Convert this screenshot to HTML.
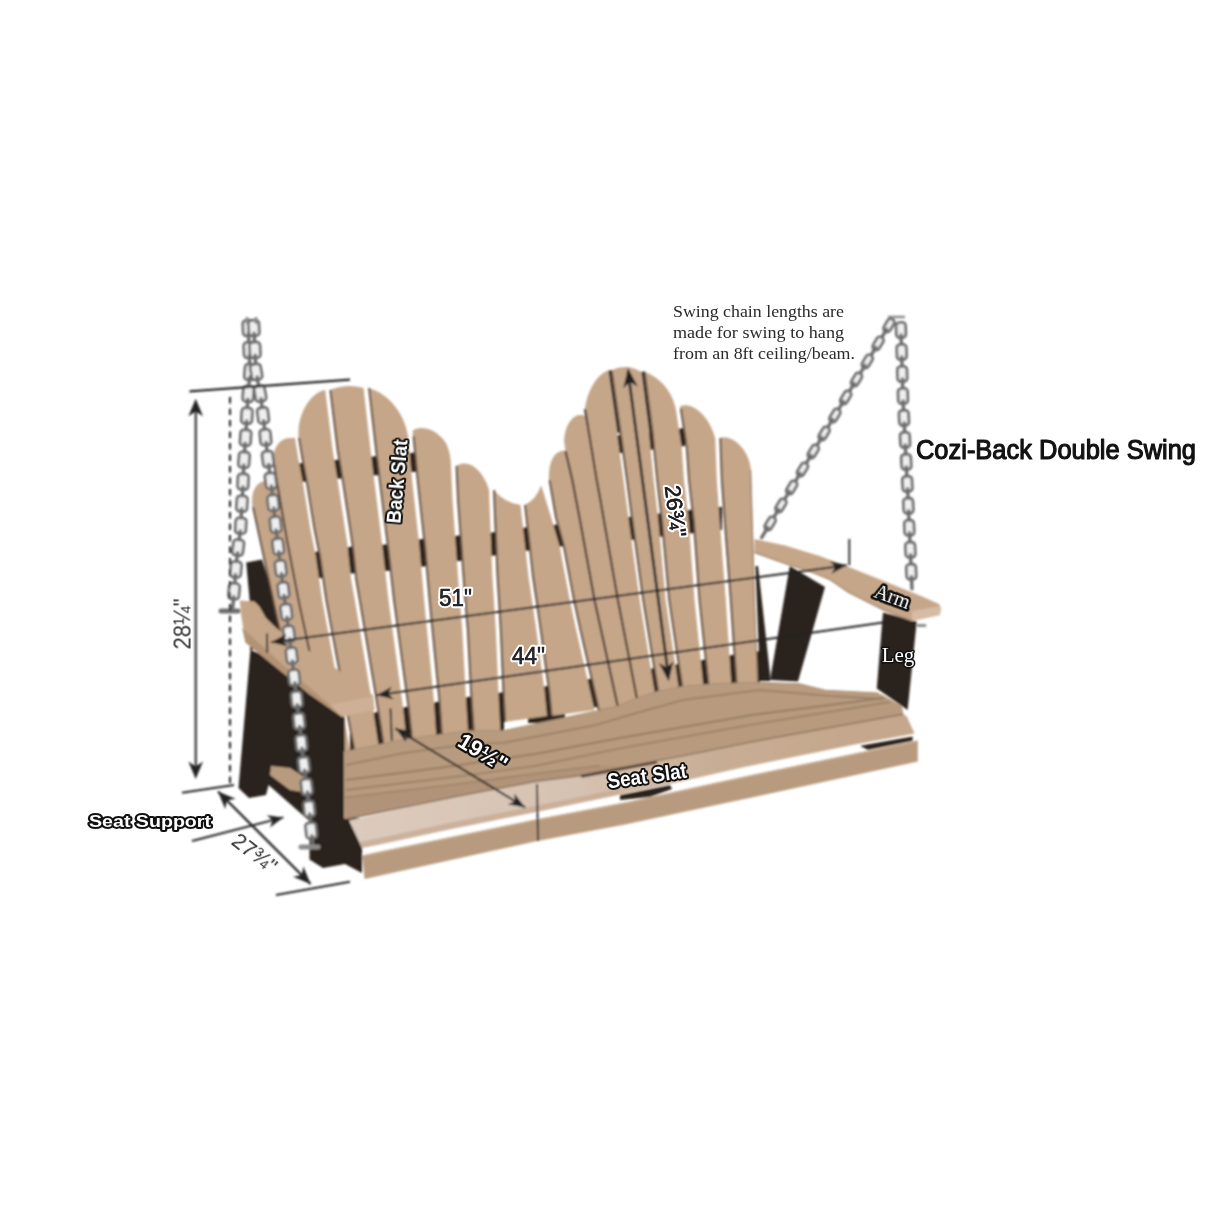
<!DOCTYPE html>
<html><head><meta charset="utf-8"><title>Cozi-Back Double Swing</title>
<style>
html,body{margin:0;padding:0;background:#fff;}
body{width:1214px;height:1214px;overflow:hidden;font-family:"Liberation Sans",sans-serif;}
svg{display:block;}
</style></head>
<body>
<svg width="1214" height="1214" viewBox="0 0 1214 1214">
<defs><filter id="soft" x="0" y="0" width="1214" height="1214" filterUnits="userSpaceOnUse"><feGaussianBlur stdDeviation="0.8"/></filter></defs>
<rect width="1214" height="1214" fill="#ffffff"/>
<g filter="url(#soft)">
<polygon points="298.0,463.5 418.0,452.2 418.0,471.5 298.0,482.3" fill="#2b221d" />
<polygon points="314.0,552.0 351.0,546.7 386.0,544.5 422.0,539.0 459.0,535.6 494.0,532.3 525.0,527.5 558.0,524.5 631.0,516.7 690.0,510.0 722.0,506.7 722.0,530.0 690.0,533.4 631.0,540.0 558.0,546.7 525.0,551.0 494.0,555.6 459.0,561.0 422.0,566.7 386.0,571.0 351.0,573.4 314.0,579.0" fill="#2b221d" />
<polygon points="612.0,436.0 685.0,428.0 685.0,446.0 612.0,454.0" fill="#2b221d" />
<polygon points="350.0,717.0 406.0,707.0 468.0,697.0 548.0,686.0 732.0,655.0 760.0,651.0 760.0,690.0 600.0,712.0 597.0,707.0 565.0,712.0 565.0,723.0 528.0,723.0 528.0,717.0 504.0,721.0 504.0,732.0 350.0,758.0" fill="#2b221d" />
<polygon points="246.2,562.4 262.0,559.5 275.0,600.0 292.0,645.0 250.0,650.0 249.5,598.6" fill="#2b221d" />
<polygon points="755.4,566.0 758.0,566.0 770.0,674.0 770.0,681.0 760.0,681.0" fill="#2b221d" />
<polygon points="789.8,566.0 825.0,587.0 798.0,681.5 770.0,680.0" fill="#2b221d" />
<path d="M300.0 720.0 L277.0 620.0 L252.5 507.0 C250 490 258 481 266 481 Q273 481 277.3 484.0 L287.0 540.0 L298.5 600.0 L308.8 648.0 L322.0 720.0 Z" fill="#c5a689"/>
<path d="M330.0 762.0 L322.0 720.0 L308.8 648.0 L298.5 600.0 L287.0 540.0 L276.7 480.0 L273.5 460.0 C273 445 282 438 290 438 Q294 438 294.9 437.8 L298.6 460.0 L303.1 483.8 L310.2 528.0 L315.6 555.0 L322.2 600.0 L334.2 665.0 L348.2 740.0 L352.2 760.0 Z" fill="#c5a689"/>
<path d="M355.8 760.0 L351.8 740.0 L337.8 665.0 L325.8 600.0 L319.1 555.0 L313.8 528.0 L306.6 483.8 L302.1 460.0 L298.4 437.8 L298.5 430 C300 410 312 392 325.2 390.0 L332.8 451.0 L338.2 483.8 L347.2 543.0 L351.2 580.0 L354.8 600.0 L370.8 695.0 L380.8 760.0 Z" fill="#c5a689"/>
<path d="M385.2 760.0 L375.2 695.0 L359.2 600.0 L355.8 580.0 L351.8 543.0 L342.8 483.8 L337.2 451.0 L329.8 390.0 Q347 383 363.5 388.0 L371.5 458.0 L374.2 480.0 L382.5 547.0 L388.5 600.0 L403.0 707.0 L408.5 760.0 Z" fill="#c5a689"/>
<path d="M413.5 760.0 L408.0 707.0 L393.5 600.0 L387.5 547.0 L379.2 480.0 L376.5 458.0 L368.5 388.0 C385 392 404 410 408.0 436.0 L412.1 480.0 L419.5 547.0 L424.1 600.0 L427.0 630.0 L433.8 699.0 L437.5 755.0 Z" fill="#c5a689"/>
<path d="M442.5 755.0 L438.8 699.0 L432.0 630.0 L429.1 600.0 L424.5 547.0 L417.1 480.0 L413.0 436.0 L412.5 431 C418 426 434 426 446 443 Q451 454 451.0 466.0 L452.5 500.0 L455.1 535.7 L458.0 576.0 L459.8 600.0 L462.3 630.0 L466.0 700.0 L469.0 745.0 Z" fill="#c5a689"/>
<path d="M474.0 745.0 L471.0 700.0 L467.3 630.0 L464.8 600.0 L463.0 576.0 L460.1 535.7 L457.5 500.0 L456.0 466.0 C463 461 474 463 482 475 Q487 482 489.1 490.0 L489.4 502.0 L492.4 576.5 L493.9 600.0 L495.8 630.0 L498.8 700.0 L500.8 738.0 Z" fill="#c5a689"/>
<path d="M504.5 722.0 L503.2 700.0 L500.2 630.0 L498.4 600.0 L496.9 576.5 L493.9 502.0 L493.6 490.0 Q505 503 520.5 505.0 L525.8 552.0 L528.5 576.5 L532.0 600.0 L536.3 630.0 L544.5 690.0 L547.0 716.0 Z" fill="#c5a689"/>
<path d="M551.0 716.0 L548.5 690.0 L540.3 630.0 L536.0 600.0 L532.5 576.5 L529.8 552.0 L524.5 505.0 Q536 500 541.2 485.3 L551.2 517.5 L559.8 547.0 L565.2 576.0 L569.8 600.0 L576.2 630.0 L592.2 700.0 L594.5 710.0 Z" fill="#c5a689"/>
<path d="M598.2 710.0 L596.0 700.0 L580.0 630.0 L573.5 600.0 L569.0 576.0 L563.5 547.0 L555.5 517.5 L549.0 480.0 C548 465 553 454 559 452 Q563 450 565.5 451.0 L572.3 480.0 L580.5 523.0 L594.5 600.0 L617.0 703.0 L618.0 707.0 Z" fill="#c5a689"/>
<path d="M618.0 707.0 L617.0 703.0 L594.5 600.0 L580.5 523.0 L572.3 480.0 L565.5 451.0 L564 441 C565 425 572 416 579 415 Q583 414.5 584.5 416 L585.0 409.0 L596.7 480.0 L600.0 497.7 L617.9 600.0 L637.0 699.0 L637.5 701.0 Z" fill="#c5a689"/>
<path d="M637.5 701.0 L637.0 699.0 L617.9 600.0 L600.0 497.7 L596.7 480.0 L585.0 409.0 C587 392 596 375 608.0 370.4 L617.0 433.0 L623.5 480.0 L629.0 522.0 L639.7 600.0 L654.5 691.0 L655.0 693.0 Z" fill="#c5a689"/>
<path d="M658.0 693.0 L657.5 691.0 L642.7 600.0 L632.0 522.0 L626.5 480.0 L620.0 433.0 L611.0 370.4 Q626.7 363 641.0 371.7 L649.0 433.0 L653.7 480.0 L658.5 522.0 L665.7 600.0 L678.5 686.5 L678.8 688.0 Z" fill="#c5a689"/>
<path d="M681.8 688.0 L681.5 686.5 L668.7 600.0 L661.5 522.0 L656.7 480.0 L652.0 433.0 L644.0 371.7 C658 376 672 390 675.8 408.7 L681.8 448.0 L684.0 480.0 L688.8 522.0 L694.5 600.0 L703.2 684.0 L703.2 686.0 Z" fill="#c5a689"/>
<path d="M707.8 686.0 L707.8 684.0 L699.0 600.0 L693.2 522.0 L688.5 480.0 L686.2 448.0 L680.2 408.7 L680.5 406 C690 402 708 412 715.2 438.0 L716.8 480.0 L719.8 522.0 L725.8 600.0 L731.2 681.5 L731.2 685.0 Z" fill="#c5a689"/>
<path d="M735.8 685.0 L735.8 681.5 L730.2 600.0 L724.2 522.0 L721.2 480.0 L719.8 438.0 C728 434 748 444 751.0 470.0 L751.3 480.0 L753.0 537.0 L754.8 600.0 L758.0 684.0 Z" fill="#c5a689"/>
<polyline points="300.6,720.0 277.6,620.0 253.1,507.0" fill="none" stroke="#574233" stroke-width="2.0" stroke-opacity="0.9"/>
<polyline points="356.4,760.0 352.4,740.0 338.4,665.0 326.4,600.0 319.8,555.0 314.4,528.0 307.2,483.8 302.8,460.0 299.1,437.8" fill="none" stroke="#574233" stroke-width="2.0" stroke-opacity="0.9"/>
<polyline points="385.9,760.0 375.9,695.0 359.9,600.0 356.4,580.0 352.4,543.0 343.4,483.8 337.9,451.0 330.4,390.0" fill="none" stroke="#574233" stroke-width="2.0" stroke-opacity="0.9"/>
<polyline points="414.1,760.0 408.6,707.0 394.1,600.0 388.1,547.0 379.8,480.0 377.1,458.0 369.1,388.0" fill="none" stroke="#574233" stroke-width="2.0" stroke-opacity="0.9"/>
<polyline points="443.1,755.0 439.4,699.0 432.6,630.0 429.7,600.0 425.1,547.0 417.7,480.0 413.6,436.0" fill="none" stroke="#574233" stroke-width="2.0" stroke-opacity="0.9"/>
<polyline points="474.6,745.0 471.6,700.0 467.9,630.0 465.4,600.0 463.6,576.0 460.7,535.7 458.1,500.0 456.6,466.0" fill="none" stroke="#574233" stroke-width="2.0" stroke-opacity="0.9"/>
<polyline points="505.1,722.0 503.9,700.0 500.9,630.0 499.1,600.0 497.6,576.5 494.5,502.0 494.2,490.0" fill="none" stroke="#574233" stroke-width="2.0" stroke-opacity="0.9"/>
<polyline points="551.6,716.0 549.1,690.0 540.9,630.0 536.6,600.0 533.1,576.5 530.4,552.0 525.1,505.0" fill="none" stroke="#574233" stroke-width="2.0" stroke-opacity="0.9"/>
<polyline points="598.8,710.0 596.6,700.0 580.6,630.0 574.1,600.0 569.6,576.0 564.1,547.0 556.1,517.5 549.6,480.0" fill="none" stroke="#574233" stroke-width="2.0" stroke-opacity="0.9"/>
<polyline points="658.6,693.0 658.1,691.0 643.3,600.0 632.6,522.0 627.1,480.0 620.6,433.0 611.6,370.4" fill="none" stroke="#574233" stroke-width="2.0" stroke-opacity="0.9"/>
<polyline points="682.4,688.0 682.1,686.5 669.3,600.0 662.1,522.0 657.3,480.0 652.6,433.0 644.6,371.7" fill="none" stroke="#574233" stroke-width="2.0" stroke-opacity="0.9"/>
<polyline points="708.4,686.0 708.4,684.0 699.6,600.0 693.9,522.0 689.1,480.0 686.9,448.0 680.9,408.7" fill="none" stroke="#574233" stroke-width="2.0" stroke-opacity="0.9"/>
<polyline points="736.4,685.0 736.4,681.5 730.9,600.0 724.9,522.0 721.9,480.0 720.4,438.0" fill="none" stroke="#574233" stroke-width="2.0" stroke-opacity="0.9"/>
<polyline points="750.6,470.0 750.9,480.0 752.6,537.0 754.4,600.0 757.6,684.0" fill="none" stroke="#8a6f58" stroke-width="1.2" stroke-opacity="0.8"/>
<polyline points="273.5,460.0 276.7,480.0 287.0,540.0 298.5,600.0 308.8,648.0 322.0,720.0 330.0,762.0" fill="none" stroke="#3f3027" stroke-width="1.8" />
<polyline points="565.5,451.0 572.3,480.0 580.5,523.0 594.5,600.0 617.0,703.0 618.0,707.0" fill="none" stroke="#3a2d25" stroke-width="2.0" />
<polyline points="585.0,409.0 596.7,480.0 600.0,497.7 617.9,600.0 637.0,699.0 637.5,701.0" fill="none" stroke="#3a2d25" stroke-width="2.0" />
<polyline points="609.5,370.4 618.5,433.0" fill="none" stroke="#3a2d25" stroke-width="2.6" />
<polyline points="642.5,371.7 650.5,433.0" fill="none" stroke="#3a2d25" stroke-width="2.6" />
<polygon points="250.4,650.0 238.5,788.0 249.0,798.0 266.0,795.0 268.6,785.0 310.6,822.0 310.6,690.0 276.0,660.0" fill="#2b221d" />
<polygon points="271.0,766.0 290.0,768.0 309.0,780.0 309.0,793.0 290.0,790.0 270.0,775.0" fill="#b89b7f" />
<polygon points="308.8,690.0 309.5,859.5 323.0,868.0 345.0,864.0 362.0,873.0 362.0,818.0 345.0,818.0 344.5,715.0" fill="#2b221d" />
<polygon points="343.8,751.8 404.0,739.4 468.0,730.8 503.0,730.8 596.0,711.0 618.0,706.0 633.0,699.5 657.0,691.6 683.0,686.4 720.0,683.5 759.7,682.4 799.0,683.7 825.6,690.3 878.0,693.0 883.6,695.6 902.0,706.0 903.3,714.0 831.0,727.0 751.8,741.5 686.0,754.6 625.0,766.5 579.6,775.3 535.0,781.0 453.5,796.5 346.0,818.7 344.0,818.7" fill="#b89b7f" />
<polygon points="344.8,797.5 453.5,784.5 535.0,773.5 600.0,765.5 625.0,766.5 579.6,775.3 535.0,781.0 453.5,796.5 347.0,818.5" fill="#b09378" />
<polyline points="346.0,765.0 404.0,753.0 468.0,744.0 503.0,743.0 596.0,725.0 633.0,714.0 683.0,700.0 760.0,690.0 830.0,696.0 884.0,699.0" fill="none" stroke="#9d8268" stroke-width="1.9" />
<polyline points="346.0,780.0 453.5,766.0 535.0,754.0 620.0,738.0 751.8,715.0 883.6,698.0" fill="none" stroke="#987d63" stroke-width="1.9" />
<polyline points="346.0,790.0 453.5,777.0 535.0,766.0 620.0,748.3 751.8,724.6 890.0,702.0" fill="none" stroke="#9d8268" stroke-width="1.8" />
<polyline points="344.8,797.5 453.5,784.5 535.0,773.5 600.0,765.5" fill="none" stroke="#957a61" stroke-width="1.2" />
<polyline points="343.8,751.8 404.0,739.4 468.0,730.8 503.0,730.8 596.0,711.0 618.0,706.0 633.0,699.5 657.0,691.6 683.0,686.4 720.0,683.5 759.7,682.4 799.0,683.7 825.6,690.3 878.0,693.0" fill="none" stroke="#a88c72" stroke-width="1.0" />
<defs><linearGradient id="ls" gradientUnits="userSpaceOnUse" x1="350" y1="0" x2="860" y2="0"><stop offset="0" stop-color="#dccbbd"/><stop offset="0.45" stop-color="#d6c2b1"/><stop offset="0.7" stop-color="#c9ae96"/><stop offset="1" stop-color="#c4a78c"/></linearGradient></defs>
<polygon points="349.0,820.5 453.5,797.0 535.0,781.5 579.6,775.5 625.0,766.5 686.0,754.0 751.8,741.0 831.0,726.5 903.0,713.5 907.0,716.7 914.0,732.5 914.0,733.8 857.0,744.0 751.8,765.4 670.0,784.0 620.0,794.4 535.0,812.3 453.5,828.4 379.4,844.4 362.0,848.0" fill="url(#ls)" />
<polygon points="359.0,842.0 379.4,838.0 453.5,822.0 535.0,806.0 620.0,788.5 620.0,794.4 535.0,812.3 453.5,828.4 379.4,844.4 362.0,848.0" fill="#c5aa92" fill-opacity="0.75"/>
<polyline points="347.0,819.0 453.5,797.0 535.0,781.6 579.6,775.8 625.0,767.0 686.0,754.9 751.8,741.8 831.0,727.3 903.0,714.3" fill="none" stroke="#8d725b" stroke-width="1.5" />
<polygon points="860.0,745.7 912.6,736.4 912.6,741.0 868.0,750.0" fill="#2b221d" />
<polygon points="620.0,795.0 670.0,785.0 672.0,789.0 650.0,797.0 620.0,800.0" fill="#2b221d" />
<polygon points="580.0,775.2 657.0,761.0 657.0,763.5 582.0,777.8" fill="#4a3b30" />
<polygon points="362.0,855.6 379.4,851.8 535.0,819.7 630.0,801.5 751.8,775.0 917.8,740.4 917.8,761.5 751.8,797.5 625.0,824.5 535.0,841.5 364.6,879.0" fill="#b89b7f" />
<polyline points="362.0,856.2 379.4,852.4 535.0,820.3 630.0,802.1 751.8,775.6 917.8,741.0" fill="none" stroke="#c9ad93" stroke-width="1.4" />
<polygon points="883.0,612.4 916.7,621.5 907.6,710.0 876.8,688.5" fill="#2b221d" />
<polygon points="754.5,539.0 785.0,545.4 819.7,556.0 848.7,567.0 885.0,581.6 921.0,596.0 939.0,604.0 941.0,608.0 940.0,615.0 912.0,621.0 885.0,610.6 848.7,592.5 830.6,580.0 812.5,572.5 789.0,565.0 754.5,552.6" fill="#c5a689" />
<polygon points="912.0,611.0 940.0,606.0 940.0,615.0 912.0,621.0" fill="#d6bca4" />
<polyline points="754.5,552.6 789.0,565.0 812.5,572.5 830.6,580.0 848.7,592.5 885.0,610.6 912.0,621.0" fill="none" stroke="#9f8268" stroke-width="1.2" />
<polygon points="239.7,600.6 254.5,601.4 259.4,606.4 266.0,618.0 276.0,627.8 287.4,636.0 308.8,650.8 341.8,672.3 373.0,695.3 374.7,710.0 341.8,716.7 308.8,693.7 276.0,667.3 245.4,642.6 241.3,616.0" fill="#c5a689" />
<polygon points="242.0,627.8 284.0,665.7 330.0,705.0 341.8,716.7 308.8,693.7 276.0,667.3 245.4,642.6" fill="#b39375" />
<polygon points="330.0,705.0 373.0,696.0 374.7,710.0 341.8,716.7" fill="#cdb096" />
<rect x="240.5" y="322.7" width="15.5" height="10.5" rx="3.2" ry="3.2" fill="#efefef" stroke="#6c6c6c" stroke-width="2.8" transform="rotate(87.7 248.2 328.0)"/>
<line x1="242.9" y1="339.0" x2="254.4" y2="339.0" stroke="#6c6c6c" stroke-width="3.4" stroke-linecap="round" transform="rotate(87.7 248.7 339.0)"/>
<rect x="241.4" y="344.7" width="15.5" height="10.5" rx="3.2" ry="3.2" fill="#efefef" stroke="#6c6c6c" stroke-width="2.8" transform="rotate(87.7 249.1 350.0)"/>
<line x1="243.8" y1="361.0" x2="255.3" y2="361.0" stroke="#6c6c6c" stroke-width="3.4" stroke-linecap="round" transform="rotate(87.7 249.6 361.0)"/>
<rect x="242.2" y="366.7" width="15.5" height="10.5" rx="3.2" ry="3.2" fill="#efefef" stroke="#6c6c6c" stroke-width="2.8" transform="rotate(94.5 249.9 372.0)"/>
<line x1="243.3" y1="382.9" x2="254.8" y2="382.9" stroke="#6c6c6c" stroke-width="3.4" stroke-linecap="round" transform="rotate(94.5 249.1 382.9)"/>
<rect x="240.4" y="388.6" width="15.5" height="10.5" rx="3.2" ry="3.2" fill="#efefef" stroke="#6c6c6c" stroke-width="2.8" transform="rotate(94.5 248.2 393.9)"/>
<line x1="241.7" y1="404.9" x2="253.2" y2="404.9" stroke="#6c6c6c" stroke-width="3.4" stroke-linecap="round" transform="rotate(93.1 247.5 404.9)"/>
<rect x="239.1" y="410.6" width="15.5" height="10.5" rx="3.2" ry="3.2" fill="#efefef" stroke="#6c6c6c" stroke-width="2.8" transform="rotate(93.1 246.9 415.8)"/>
<line x1="240.5" y1="426.8" x2="252.0" y2="426.8" stroke="#6c6c6c" stroke-width="3.4" stroke-linecap="round" transform="rotate(93.1 246.3 426.8)"/>
<rect x="237.8" y="432.6" width="15.5" height="10.5" rx="3.2" ry="3.2" fill="#efefef" stroke="#6c6c6c" stroke-width="2.8" transform="rotate(94.0 245.6 437.8)"/>
<line x1="239.1" y1="448.8" x2="250.6" y2="448.8" stroke="#6c6c6c" stroke-width="3.4" stroke-linecap="round" transform="rotate(94.0 244.8 448.8)"/>
<rect x="236.3" y="454.5" width="15.5" height="10.5" rx="3.2" ry="3.2" fill="#efefef" stroke="#6c6c6c" stroke-width="2.8" transform="rotate(94.0 244.0 459.8)"/>
<line x1="237.7" y1="470.7" x2="249.2" y2="470.7" stroke="#6c6c6c" stroke-width="3.4" stroke-linecap="round" transform="rotate(92.1 243.5 470.7)"/>
<rect x="235.3" y="476.5" width="15.5" height="10.5" rx="3.2" ry="3.2" fill="#efefef" stroke="#6c6c6c" stroke-width="2.8" transform="rotate(92.1 243.1 481.7)"/>
<line x1="236.9" y1="492.7" x2="248.4" y2="492.7" stroke="#6c6c6c" stroke-width="3.4" stroke-linecap="round" transform="rotate(93.3 242.6 492.7)"/>
<rect x="234.2" y="498.5" width="15.5" height="10.5" rx="3.2" ry="3.2" fill="#efefef" stroke="#6c6c6c" stroke-width="2.8" transform="rotate(93.3 242.0 503.7)"/>
<line x1="235.6" y1="514.7" x2="247.1" y2="514.7" stroke="#6c6c6c" stroke-width="3.4" stroke-linecap="round" transform="rotate(93.3 241.3 514.7)"/>
<rect x="233.0" y="520.4" width="15.5" height="10.5" rx="3.2" ry="3.2" fill="#efefef" stroke="#6c6c6c" stroke-width="2.8" transform="rotate(93.3 240.7 525.7)"/>
<line x1="233.9" y1="536.6" x2="245.4" y2="536.6" stroke="#6c6c6c" stroke-width="3.4" stroke-linecap="round" transform="rotate(97.1 239.6 536.6)"/>
<rect x="230.5" y="542.3" width="15.5" height="10.5" rx="3.2" ry="3.2" fill="#efefef" stroke="#6c6c6c" stroke-width="2.8" transform="rotate(97.1 238.2 547.5)"/>
<line x1="231.1" y1="558.4" x2="242.6" y2="558.4" stroke="#6c6c6c" stroke-width="3.4" stroke-linecap="round" transform="rotate(97.1 236.9 558.4)"/>
<rect x="228.1" y="564.1" width="15.5" height="10.5" rx="3.2" ry="3.2" fill="#efefef" stroke="#6c6c6c" stroke-width="2.8" transform="rotate(94.6 235.8 569.4)"/>
<line x1="229.2" y1="580.3" x2="240.7" y2="580.3" stroke="#6c6c6c" stroke-width="3.4" stroke-linecap="round" transform="rotate(94.6 235.0 580.3)"/>
<rect x="226.3" y="586.1" width="15.5" height="10.5" rx="3.2" ry="3.2" fill="#efefef" stroke="#6c6c6c" stroke-width="2.8" transform="rotate(94.6 234.1 591.3)"/>
<line x1="227.5" y1="602.3" x2="239.0" y2="602.3" stroke="#6c6c6c" stroke-width="3.4" stroke-linecap="round" transform="rotate(94.6 233.2 602.3)"/>
<rect x="246.1" y="322.7" width="15.5" height="10.5" rx="3.2" ry="3.2" fill="#efefef" stroke="#6c6c6c" stroke-width="2.8" transform="rotate(87.1 253.8 328.0)"/>
<line x1="248.6" y1="339.0" x2="260.1" y2="339.0" stroke="#6c6c6c" stroke-width="3.4" stroke-linecap="round" transform="rotate(87.1 254.4 339.0)"/>
<rect x="247.2" y="344.7" width="15.5" height="10.5" rx="3.2" ry="3.2" fill="#efefef" stroke="#6c6c6c" stroke-width="2.8" transform="rotate(87.1 254.9 350.0)"/>
<line x1="249.7" y1="360.9" x2="261.2" y2="360.9" stroke="#6c6c6c" stroke-width="3.4" stroke-linecap="round" transform="rotate(87.1 255.5 360.9)"/>
<rect x="248.4" y="366.7" width="15.5" height="10.5" rx="3.2" ry="3.2" fill="#efefef" stroke="#6c6c6c" stroke-width="2.8" transform="rotate(79.8 256.2 371.9)"/>
<line x1="252.4" y1="382.7" x2="263.9" y2="382.7" stroke="#6c6c6c" stroke-width="3.4" stroke-linecap="round" transform="rotate(79.8 258.1 382.7)"/>
<rect x="252.3" y="388.3" width="15.5" height="10.5" rx="3.2" ry="3.2" fill="#efefef" stroke="#6c6c6c" stroke-width="2.8" transform="rotate(79.8 260.1 393.6)"/>
<line x1="255.9" y1="404.4" x2="267.4" y2="404.4" stroke="#6c6c6c" stroke-width="3.4" stroke-linecap="round" transform="rotate(83.1 261.7 404.4)"/>
<rect x="255.3" y="410.1" width="15.5" height="10.5" rx="3.2" ry="3.2" fill="#efefef" stroke="#6c6c6c" stroke-width="2.8" transform="rotate(83.1 263.0 415.4)"/>
<line x1="258.6" y1="426.3" x2="270.1" y2="426.3" stroke="#6c6c6c" stroke-width="3.4" stroke-linecap="round" transform="rotate(83.1 264.3 426.3)"/>
<rect x="257.8" y="432.0" width="15.5" height="10.5" rx="3.2" ry="3.2" fill="#efefef" stroke="#6c6c6c" stroke-width="2.8" transform="rotate(84.2 265.5 437.2)"/>
<line x1="260.9" y1="448.2" x2="272.4" y2="448.2" stroke="#6c6c6c" stroke-width="3.4" stroke-linecap="round" transform="rotate(84.2 266.7 448.2)"/>
<rect x="260.1" y="453.8" width="15.5" height="10.5" rx="3.2" ry="3.2" fill="#efefef" stroke="#6c6c6c" stroke-width="2.8" transform="rotate(82.3 267.9 459.1)"/>
<line x1="263.6" y1="470.0" x2="275.1" y2="470.0" stroke="#6c6c6c" stroke-width="3.4" stroke-linecap="round" transform="rotate(82.3 269.3 470.0)"/>
<rect x="263.0" y="475.7" width="15.5" height="10.5" rx="3.2" ry="3.2" fill="#efefef" stroke="#6c6c6c" stroke-width="2.8" transform="rotate(82.3 270.8 480.9)"/>
<line x1="266.2" y1="491.8" x2="277.7" y2="491.8" stroke="#6c6c6c" stroke-width="3.4" stroke-linecap="round" transform="rotate(83.9 272.0 491.8)"/>
<rect x="265.4" y="497.5" width="15.5" height="10.5" rx="3.2" ry="3.2" fill="#efefef" stroke="#6c6c6c" stroke-width="2.8" transform="rotate(83.9 273.1 502.8)"/>
<line x1="268.6" y1="513.7" x2="280.1" y2="513.7" stroke="#6c6c6c" stroke-width="3.4" stroke-linecap="round" transform="rotate(83.9 274.3 513.7)"/>
<rect x="267.7" y="519.4" width="15.5" height="10.5" rx="3.2" ry="3.2" fill="#efefef" stroke="#6c6c6c" stroke-width="2.8" transform="rotate(83.9 275.5 524.7)"/>
<line x1="271.0" y1="535.6" x2="282.5" y2="535.6" stroke="#6c6c6c" stroke-width="3.4" stroke-linecap="round" transform="rotate(83.0 276.8 535.6)"/>
<rect x="270.3" y="541.2" width="15.5" height="10.5" rx="3.2" ry="3.2" fill="#efefef" stroke="#6c6c6c" stroke-width="2.8" transform="rotate(83.0 278.1 546.5)"/>
<line x1="273.7" y1="557.4" x2="285.2" y2="557.4" stroke="#6c6c6c" stroke-width="3.4" stroke-linecap="round" transform="rotate(83.0 279.4 557.4)"/>
<rect x="273.0" y="563.1" width="15.5" height="10.5" rx="3.2" ry="3.2" fill="#efefef" stroke="#6c6c6c" stroke-width="2.8" transform="rotate(83.0 280.7 568.3)"/>
<line x1="276.3" y1="579.3" x2="287.8" y2="579.3" stroke="#6c6c6c" stroke-width="3.4" stroke-linecap="round" transform="rotate(83.0 282.1 579.3)"/>
<rect x="275.7" y="584.9" width="15.5" height="10.5" rx="3.2" ry="3.2" fill="#efefef" stroke="#6c6c6c" stroke-width="2.8" transform="rotate(83.0 283.4 590.2)"/>
<line x1="279.0" y1="601.1" x2="290.5" y2="601.1" stroke="#6c6c6c" stroke-width="3.4" stroke-linecap="round" transform="rotate(82.6 284.8 601.1)"/>
<rect x="278.5" y="606.7" width="15.5" height="10.5" rx="3.2" ry="3.2" fill="#efefef" stroke="#6c6c6c" stroke-width="2.8" transform="rotate(82.6 286.2 612.0)"/>
<line x1="281.9" y1="622.9" x2="293.4" y2="622.9" stroke="#6c6c6c" stroke-width="3.4" stroke-linecap="round" transform="rotate(82.6 287.6 622.9)"/>
<rect x="281.3" y="628.6" width="15.5" height="10.5" rx="3.2" ry="3.2" fill="#efefef" stroke="#6c6c6c" stroke-width="2.8" transform="rotate(82.6 289.0 633.8)"/>
<line x1="284.7" y1="644.7" x2="296.2" y2="644.7" stroke="#6c6c6c" stroke-width="3.4" stroke-linecap="round" transform="rotate(82.6 290.4 644.7)"/>
<rect x="284.0" y="650.4" width="15.5" height="10.5" rx="3.2" ry="3.2" fill="#efefef" stroke="#6c6c6c" stroke-width="2.8" transform="rotate(83.6 291.7 655.6)"/>
<line x1="287.2" y1="666.6" x2="298.7" y2="666.6" stroke="#6c6c6c" stroke-width="3.4" stroke-linecap="round" transform="rotate(83.6 293.0 666.6)"/>
<rect x="286.5" y="672.3" width="15.5" height="10.5" rx="3.2" ry="3.2" fill="#efefef" stroke="#6c6c6c" stroke-width="2.8" transform="rotate(83.6 294.2 677.5)"/>
<line x1="289.7" y1="688.4" x2="301.2" y2="688.4" stroke="#6c6c6c" stroke-width="3.4" stroke-linecap="round" transform="rotate(83.6 295.5 688.4)"/>
<rect x="288.9" y="694.1" width="15.5" height="10.5" rx="3.2" ry="3.2" fill="#efefef" stroke="#6c6c6c" stroke-width="2.8" transform="rotate(83.6 296.7 699.4)"/>
<line x1="292.2" y1="710.3" x2="303.7" y2="710.3" stroke="#6c6c6c" stroke-width="3.4" stroke-linecap="round" transform="rotate(83.6 297.9 710.3)"/>
<rect x="291.3" y="716.0" width="15.5" height="10.5" rx="3.2" ry="3.2" fill="#efefef" stroke="#6c6c6c" stroke-width="2.8" transform="rotate(83.9 299.1 721.2)"/>
<line x1="294.5" y1="732.2" x2="306.0" y2="732.2" stroke="#6c6c6c" stroke-width="3.4" stroke-linecap="round" transform="rotate(83.9 300.3 732.2)"/>
<rect x="293.7" y="737.9" width="15.5" height="10.5" rx="3.2" ry="3.2" fill="#efefef" stroke="#6c6c6c" stroke-width="2.8" transform="rotate(83.9 301.4 743.1)"/>
<line x1="296.8" y1="754.0" x2="308.3" y2="754.0" stroke="#6c6c6c" stroke-width="3.4" stroke-linecap="round" transform="rotate(83.9 302.6 754.0)"/>
<rect x="296.1" y="759.7" width="15.5" height="10.5" rx="3.2" ry="3.2" fill="#efefef" stroke="#6c6c6c" stroke-width="2.8" transform="rotate(82.8 303.9 765.0)"/>
<line x1="299.5" y1="775.9" x2="311.0" y2="775.9" stroke="#6c6c6c" stroke-width="3.4" stroke-linecap="round" transform="rotate(82.8 305.3 775.9)"/>
<rect x="298.9" y="781.5" width="15.5" height="10.5" rx="3.2" ry="3.2" fill="#efefef" stroke="#6c6c6c" stroke-width="2.8" transform="rotate(82.8 306.6 786.8)"/>
<line x1="302.3" y1="797.7" x2="313.8" y2="797.7" stroke="#6c6c6c" stroke-width="3.4" stroke-linecap="round" transform="rotate(84.2 308.0 797.7)"/>
<rect x="301.4" y="803.4" width="15.5" height="10.5" rx="3.2" ry="3.2" fill="#efefef" stroke="#6c6c6c" stroke-width="2.8" transform="rotate(84.2 309.1 808.7)"/>
<line x1="304.5" y1="819.6" x2="316.0" y2="819.6" stroke="#6c6c6c" stroke-width="3.4" stroke-linecap="round" transform="rotate(84.2 310.2 819.6)"/>
<rect x="303.6" y="825.3" width="15.5" height="10.5" rx="3.2" ry="3.2" fill="#efefef" stroke="#6c6c6c" stroke-width="2.8" transform="rotate(84.2 311.3 830.5)"/>
<line x1="306.7" y1="841.5" x2="318.2" y2="841.5" stroke="#6c6c6c" stroke-width="3.4" stroke-linecap="round" transform="rotate(84.2 312.4 841.5)"/>
<rect x="881.9" y="321.9" width="14" height="7" rx="3.2" ry="3.2" fill="#efefef" stroke="#6c6c6c" stroke-width="2.8" transform="rotate(121.0 888.9 325.4)"/>
<line x1="877.5" y1="334.4" x2="889.5" y2="334.4" stroke="#6c6c6c" stroke-width="3.4" stroke-linecap="round" transform="rotate(121.0 883.5 334.4)"/>
<rect x="871.1" y="339.9" width="14" height="7" rx="3.2" ry="3.2" fill="#efefef" stroke="#6c6c6c" stroke-width="2.8" transform="rotate(121.0 878.1 343.4)"/>
<line x1="866.7" y1="352.4" x2="878.7" y2="352.4" stroke="#6c6c6c" stroke-width="3.4" stroke-linecap="round" transform="rotate(121.0 872.7 352.4)"/>
<rect x="860.3" y="357.9" width="14" height="7" rx="3.2" ry="3.2" fill="#efefef" stroke="#6c6c6c" stroke-width="2.8" transform="rotate(121.0 867.3 361.4)"/>
<line x1="855.9" y1="370.4" x2="867.9" y2="370.4" stroke="#6c6c6c" stroke-width="3.4" stroke-linecap="round" transform="rotate(121.0 861.9 370.4)"/>
<rect x="849.5" y="376.0" width="14" height="7" rx="3.2" ry="3.2" fill="#efefef" stroke="#6c6c6c" stroke-width="2.8" transform="rotate(121.0 856.5 379.5)"/>
<line x1="845.1" y1="388.5" x2="857.1" y2="388.5" stroke="#6c6c6c" stroke-width="3.4" stroke-linecap="round" transform="rotate(121.0 851.1 388.5)"/>
<rect x="838.7" y="394.0" width="14" height="7" rx="3.2" ry="3.2" fill="#efefef" stroke="#6c6c6c" stroke-width="2.8" transform="rotate(121.0 845.7 397.5)"/>
<line x1="834.3" y1="406.5" x2="846.3" y2="406.5" stroke="#6c6c6c" stroke-width="3.4" stroke-linecap="round" transform="rotate(121.0 840.3 406.5)"/>
<rect x="827.9" y="412.0" width="14" height="7" rx="3.2" ry="3.2" fill="#efefef" stroke="#6c6c6c" stroke-width="2.8" transform="rotate(121.0 834.9 415.5)"/>
<line x1="823.5" y1="424.5" x2="835.5" y2="424.5" stroke="#6c6c6c" stroke-width="3.4" stroke-linecap="round" transform="rotate(121.0 829.5 424.5)"/>
<rect x="817.1" y="430.0" width="14" height="7" rx="3.2" ry="3.2" fill="#efefef" stroke="#6c6c6c" stroke-width="2.8" transform="rotate(121.0 824.1 433.5)"/>
<line x1="812.7" y1="442.5" x2="824.7" y2="442.5" stroke="#6c6c6c" stroke-width="3.4" stroke-linecap="round" transform="rotate(121.0 818.7 442.5)"/>
<rect x="806.3" y="448.0" width="14" height="7" rx="3.2" ry="3.2" fill="#efefef" stroke="#6c6c6c" stroke-width="2.8" transform="rotate(121.0 813.3 451.5)"/>
<line x1="801.9" y1="460.5" x2="813.9" y2="460.5" stroke="#6c6c6c" stroke-width="3.4" stroke-linecap="round" transform="rotate(121.0 807.9 460.5)"/>
<rect x="795.5" y="466.0" width="14" height="7" rx="3.2" ry="3.2" fill="#efefef" stroke="#6c6c6c" stroke-width="2.8" transform="rotate(121.0 802.5 469.5)"/>
<line x1="791.1" y1="478.5" x2="803.1" y2="478.5" stroke="#6c6c6c" stroke-width="3.4" stroke-linecap="round" transform="rotate(121.0 797.1 478.5)"/>
<rect x="784.7" y="484.0" width="14" height="7" rx="3.2" ry="3.2" fill="#efefef" stroke="#6c6c6c" stroke-width="2.8" transform="rotate(121.0 791.7 487.5)"/>
<line x1="780.3" y1="496.5" x2="792.3" y2="496.5" stroke="#6c6c6c" stroke-width="3.4" stroke-linecap="round" transform="rotate(121.0 786.3 496.5)"/>
<rect x="773.9" y="502.0" width="14" height="7" rx="3.2" ry="3.2" fill="#efefef" stroke="#6c6c6c" stroke-width="2.8" transform="rotate(121.0 780.9 505.5)"/>
<line x1="769.5" y1="514.5" x2="781.5" y2="514.5" stroke="#6c6c6c" stroke-width="3.4" stroke-linecap="round" transform="rotate(121.0 775.5 514.5)"/>
<rect x="763.1" y="520.0" width="14" height="7" rx="3.2" ry="3.2" fill="#efefef" stroke="#6c6c6c" stroke-width="2.8" transform="rotate(121.0 770.1 523.5)"/>
<line x1="758.7" y1="532.5" x2="770.7" y2="532.5" stroke="#6c6c6c" stroke-width="3.4" stroke-linecap="round" transform="rotate(121.0 764.7 532.5)"/>
<rect x="893.4" y="325.2" width="15" height="9.5" rx="3.2" ry="3.2" fill="#efefef" stroke="#6c6c6c" stroke-width="2.8" transform="rotate(88.2 900.9 330.0)"/>
<line x1="895.2" y1="341.0" x2="907.2" y2="341.0" stroke="#6c6c6c" stroke-width="3.4" stroke-linecap="round" transform="rotate(88.2 901.2 341.0)"/>
<rect x="894.1" y="347.2" width="15" height="9.5" rx="3.2" ry="3.2" fill="#efefef" stroke="#6c6c6c" stroke-width="2.8" transform="rotate(88.2 901.6 352.0)"/>
<line x1="895.9" y1="363.0" x2="907.9" y2="363.0" stroke="#6c6c6c" stroke-width="3.4" stroke-linecap="round" transform="rotate(88.2 901.9 363.0)"/>
<rect x="894.7" y="369.2" width="15" height="9.5" rx="3.2" ry="3.2" fill="#efefef" stroke="#6c6c6c" stroke-width="2.8" transform="rotate(88.2 902.2 374.0)"/>
<line x1="896.6" y1="385.0" x2="908.6" y2="385.0" stroke="#6c6c6c" stroke-width="3.4" stroke-linecap="round" transform="rotate(88.2 902.6 385.0)"/>
<rect x="895.4" y="391.2" width="15" height="9.5" rx="3.2" ry="3.2" fill="#efefef" stroke="#6c6c6c" stroke-width="2.8" transform="rotate(88.2 902.9 396.0)"/>
<line x1="897.4" y1="407.0" x2="909.4" y2="407.0" stroke="#6c6c6c" stroke-width="3.4" stroke-linecap="round" transform="rotate(87.1 903.4 407.0)"/>
<rect x="896.5" y="413.2" width="15" height="9.5" rx="3.2" ry="3.2" fill="#efefef" stroke="#6c6c6c" stroke-width="2.8" transform="rotate(87.1 904.0 417.9)"/>
<line x1="898.5" y1="428.9" x2="910.5" y2="428.9" stroke="#6c6c6c" stroke-width="3.4" stroke-linecap="round" transform="rotate(87.1 904.5 428.9)"/>
<rect x="897.6" y="435.2" width="15" height="9.5" rx="3.2" ry="3.2" fill="#efefef" stroke="#6c6c6c" stroke-width="2.8" transform="rotate(87.1 905.1 439.9)"/>
<line x1="899.6" y1="450.9" x2="911.6" y2="450.9" stroke="#6c6c6c" stroke-width="3.4" stroke-linecap="round" transform="rotate(87.1 905.6 450.9)"/>
<rect x="898.7" y="457.1" width="15" height="9.5" rx="3.2" ry="3.2" fill="#efefef" stroke="#6c6c6c" stroke-width="2.8" transform="rotate(87.1 906.2 461.9)"/>
<line x1="900.7" y1="472.9" x2="912.7" y2="472.9" stroke="#6c6c6c" stroke-width="3.4" stroke-linecap="round" transform="rotate(87.1 906.7 472.9)"/>
<rect x="899.8" y="479.1" width="15" height="9.5" rx="3.2" ry="3.2" fill="#efefef" stroke="#6c6c6c" stroke-width="2.8" transform="rotate(87.1 907.3 483.9)"/>
<line x1="901.9" y1="494.8" x2="913.9" y2="494.8" stroke="#6c6c6c" stroke-width="3.4" stroke-linecap="round" transform="rotate(87.1 907.9 494.8)"/>
<rect x="900.9" y="501.1" width="15" height="9.5" rx="3.2" ry="3.2" fill="#efefef" stroke="#6c6c6c" stroke-width="2.8" transform="rotate(87.5 908.4 505.8)"/>
<line x1="902.8" y1="516.8" x2="914.8" y2="516.8" stroke="#6c6c6c" stroke-width="3.4" stroke-linecap="round" transform="rotate(87.5 908.8 516.8)"/>
<rect x="901.8" y="523.1" width="15" height="9.5" rx="3.2" ry="3.2" fill="#efefef" stroke="#6c6c6c" stroke-width="2.8" transform="rotate(87.5 909.3 527.8)"/>
<line x1="903.8" y1="538.8" x2="915.8" y2="538.8" stroke="#6c6c6c" stroke-width="3.4" stroke-linecap="round" transform="rotate(87.5 909.8 538.8)"/>
<rect x="902.8" y="545.0" width="15" height="9.5" rx="3.2" ry="3.2" fill="#efefef" stroke="#6c6c6c" stroke-width="2.8" transform="rotate(87.5 910.3 549.8)"/>
<line x1="904.8" y1="560.8" x2="916.8" y2="560.8" stroke="#6c6c6c" stroke-width="3.4" stroke-linecap="round" transform="rotate(87.5 910.8 560.8)"/>
<rect x="903.7" y="567.0" width="15" height="9.5" rx="3.2" ry="3.2" fill="#efefef" stroke="#6c6c6c" stroke-width="2.8" transform="rotate(87.5 911.2 571.8)"/>
<line x1="905.7" y1="582.8" x2="917.7" y2="582.8" stroke="#6c6c6c" stroke-width="3.4" stroke-linecap="round" transform="rotate(87.5 911.7 582.8)"/>
<polyline points="247.0,317.0 247.0,324.0" fill="none" stroke="#8a8a8a" stroke-width="2.5" />
<polyline points="256.0,317.0 256.0,324.0" fill="none" stroke="#8a8a8a" stroke-width="2.5" />
<polyline points="888.0,317.0 905.0,317.0" fill="none" stroke="#8a8a8a" stroke-width="2.5" />
<polyline points="221.0,611.0 238.0,611.0" fill="none" stroke="#6e6e6e" stroke-width="5" stroke-linecap="round"/>
<polyline points="301.0,847.0 318.0,847.0" fill="none" stroke="#8a8a8a" stroke-width="5" stroke-linecap="round"/>
<polyline points="918.0,625.5 925.0,625.5" fill="none" stroke="#8a8a8a" stroke-width="3" stroke-linecap="round"/>
<line x1="189.5" y1="391.4" x2="350" y2="379.6" stroke="#222" stroke-width="2.1" />
<line x1="195.8" y1="404" x2="195.8" y2="774" stroke="#4a4a4a" stroke-width="2.5" />
<polygon points="195.7,398.8 203.0,416.3 195.7,411.4 188.4,416.3" fill="#222"/>
<polygon points="195.7,779.0 188.4,761.5 195.7,766.4 203.0,761.5" fill="#222"/>
<line x1="230" y1="397" x2="230" y2="783" stroke="#222" stroke-width="2.0" stroke-dasharray="6.5 5"/>
<line x1="182" y1="792.7" x2="234" y2="785" stroke="#222" stroke-width="2.1" />
<line x1="218" y1="791.5" x2="310.6" y2="884" stroke="#222" stroke-width="2.3" />
<polygon points="218.0,791.5 235.5,798.7 226.9,800.4 225.2,809.0" fill="#222"/>
<polygon points="310.6,884.0 293.1,876.8 301.7,875.1 303.4,866.5" fill="#222"/>
<line x1="276" y1="895" x2="350" y2="881.7" stroke="#222" stroke-width="2.1" />
<line x1="192" y1="841" x2="283.4" y2="817.4" stroke="#222" stroke-width="2.0" />
<polygon points="283.4,817.4 270.0,827.4 272.6,820.2 266.8,815.2" fill="#222"/>
<line x1="271" y1="642.3" x2="847" y2="565.3" stroke="#222" stroke-width="2.0" />
<polygon points="271.0,642.3 286.5,633.9 282.8,640.7 288.2,646.4" fill="#222"/>
<polygon points="847.0,565.3 831.5,573.7 835.2,566.9 829.8,561.2" fill="#222"/>
<line x1="267" y1="633.5" x2="267.3" y2="652.5" stroke="#222" stroke-width="1.8" />
<line x1="849.3" y1="539" x2="849.3" y2="565.3" stroke="#222" stroke-width="1.8" />
<line x1="376.4" y1="695.3" x2="883" y2="622.4" stroke="#222" stroke-width="2.0" />
<polygon points="376.4,695.3 391.8,686.7 388.2,693.6 393.6,699.2" fill="#222"/>
<line x1="390.5" y1="708.5" x2="391.8" y2="740.6" stroke="#222" stroke-width="1.8" />
<line x1="628" y1="371" x2="668.7" y2="678" stroke="#222" stroke-width="2.7" />
<polygon points="628.0,368.0 637.8,386.4 629.8,381.9 623.3,388.3" fill="#222"/>
<polygon points="668.7,681.5 658.9,663.1 666.9,667.6 673.4,661.2" fill="#222"/>
<line x1="395.3" y1="728.3" x2="525.2" y2="807.4" stroke="#222" stroke-width="2.0" />
<polygon points="395.3,728.3 412.7,731.5 405.5,734.5 406.1,742.3" fill="#222"/>
<polygon points="525.2,807.4 507.8,804.2 515.0,801.2 514.4,793.4" fill="#222"/>
<line x1="537" y1="784" x2="538" y2="840.7" stroke="#222" stroke-width="1.8" />
</g>
<text x="673" y="317" font-family="Liberation Serif" font-size="17" font-weight="normal" fill="#2a2a2a" text-anchor="start" textLength="171" lengthAdjust="spacingAndGlyphs" >Swing chain lengths are</text>
<text x="673" y="338" font-family="Liberation Serif" font-size="17" font-weight="normal" fill="#2a2a2a" text-anchor="start" textLength="171" lengthAdjust="spacingAndGlyphs" >made for swing to hang</text>
<text x="673" y="359" font-family="Liberation Serif" font-size="17" font-weight="normal" fill="#2a2a2a" text-anchor="start" textLength="182" lengthAdjust="spacingAndGlyphs" >from an 8ft ceiling/beam.</text>
<text x="916" y="459" font-family="Liberation Sans" font-size="27.5" font-weight="normal" fill="#111" text-anchor="start" stroke="#111" stroke-width="1.2" paint-order="stroke" stroke-linejoin="round" textLength="280" lengthAdjust="spacingAndGlyphs" >Cozi-Back Double Swing</text>
<text x="190.5" y="624" font-family="Liberation Sans" font-size="24" font-weight="normal" fill="#333" text-anchor="middle" textLength="51" lengthAdjust="spacingAndGlyphs" transform="rotate(-90 190.5 624)" >28¼"</text>
<text x="250" y="859" font-family="Liberation Sans" font-size="22" font-weight="normal" fill="#333" text-anchor="middle" transform="rotate(38 250 859)" >27¾"</text>
<text x="455.5" y="605.5" font-family="Liberation Sans" font-size="23" font-weight="normal" fill="#26262c" text-anchor="middle" stroke="#fff" stroke-width="4.5" paint-order="stroke" stroke-linejoin="round" textLength="33" lengthAdjust="spacingAndGlyphs" >51"</text>
<text x="455.5" y="605.5" font-family="Liberation Sans" font-size="23" font-weight="normal" fill="#26262c" stroke="#26262c" stroke-width="0.45" text-anchor="middle" textLength="33" lengthAdjust="spacingAndGlyphs" >51"</text>
<text x="528.5" y="664" font-family="Liberation Sans" font-size="23" font-weight="normal" fill="#26262c" text-anchor="middle" stroke="#fff" stroke-width="4.5" paint-order="stroke" stroke-linejoin="round" textLength="33" lengthAdjust="spacingAndGlyphs" >44"</text>
<text x="528.5" y="664" font-family="Liberation Sans" font-size="23" font-weight="normal" fill="#26262c" stroke="#26262c" stroke-width="0.45" text-anchor="middle" textLength="33" lengthAdjust="spacingAndGlyphs" >44"</text>
<text x="668" y="512" font-family="Liberation Sans" font-size="22" font-weight="normal" fill="#1c1c22" text-anchor="middle" stroke="#fff" stroke-width="4.5" paint-order="stroke" stroke-linejoin="round" textLength="52" lengthAdjust="spacingAndGlyphs" transform="rotate(83 668 512)" >26¾"</text>
<text x="668" y="512" font-family="Liberation Sans" font-size="22" font-weight="normal" fill="#1c1c22" stroke="#1c1c22" stroke-width="0.5" text-anchor="middle" textLength="52" lengthAdjust="spacingAndGlyphs" transform="rotate(83 668 512)" >26¾"</text>
<text x="479" y="759" font-family="Liberation Sans" font-size="22" font-weight="bold" fill="#fff" text-anchor="middle" stroke="#111" stroke-width="4.5" paint-order="stroke" stroke-linejoin="round" transform="rotate(31 479 759)" >19½"</text>
<text x="404" y="482" font-family="Liberation Sans" font-size="20" font-weight="bold" fill="#fff" text-anchor="middle" stroke="#111" stroke-width="4" paint-order="stroke" stroke-linejoin="round" textLength="84" lengthAdjust="spacingAndGlyphs" transform="rotate(-85 404 482)" >Back Slat</text>
<text x="648" y="783" font-family="Liberation Sans" font-size="21" font-weight="bold" fill="#fff" text-anchor="middle" stroke="#111" stroke-width="4" paint-order="stroke" stroke-linejoin="round" textLength="80" lengthAdjust="spacingAndGlyphs" transform="rotate(-8 648 783)" >Seat Slat</text>
<text x="890" y="603" font-family="Liberation Serif" font-size="20" font-weight="normal" fill="#fff" text-anchor="middle" stroke="#111" stroke-width="5" paint-order="stroke" stroke-linejoin="round" transform="rotate(20 890 603)" >Arm</text>
<text x="898" y="662" font-family="Liberation Serif" font-size="21" font-weight="normal" fill="#fff" text-anchor="middle" stroke="#111" stroke-width="3" paint-order="stroke" stroke-linejoin="round" >Leg</text>
<text x="150" y="827" font-family="Liberation Sans" font-size="17" font-weight="bold" fill="#fff" text-anchor="middle" stroke="#111" stroke-width="4" paint-order="stroke" stroke-linejoin="round" textLength="122" lengthAdjust="spacingAndGlyphs" >Seat Support</text>
</svg>
</body></html>
